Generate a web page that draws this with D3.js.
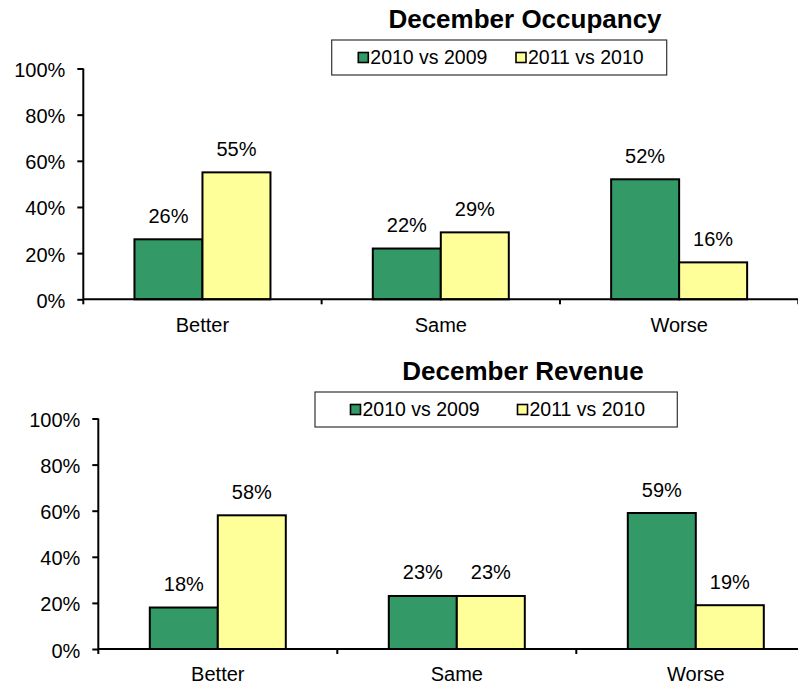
<!DOCTYPE html>
<html>
<head>
<meta charset="utf-8">
<script src="https://cdn.jsdelivr.net/npm/d3@7"></script>
<style>
  html, body { margin: 0; padding: 0; background: #fff; }
  svg { display: block; font-family: "Liberation Sans", Arial, sans-serif; }
</style>
</head>
<body>
<svg id="chart" width="798" height="684"></svg>
<script>
// ---- Data ----
const categories = ["Better", "Same", "Worse"];
const seriesNames = ["2010 vs 2009", "2011 vs 2010"];
const occupancy2010vs2009 = [26, 22, 52];
const occupancy2011vs2010 = [55, 29, 16];
const revenue2010vs2009 = [18, 23, 59];
const revenue2011vs2010 = [58, 23, 19];
const yTickValues = [0, 20, 40, 60, 80, 100];
const titles = ["December Occupancy", "December Revenue"];
const colors = ["#339966", "#FFFF99"];

const svg = d3.select("#chart");

function drawChart(cfg) {
  const g = svg.append("g");
  const y = d3.scaleLinear().domain([0, 100]).range([cfg.y0, cfg.y1]);
  const x = d3.scaleBand().domain(categories).range([cfg.x0, cfg.x1]).padding(0);
  const barW = 68;
  const xs = d3.scaleBand().domain(seriesNames).range([0, 2 * barW]).padding(0);

  // title
  g.append("text")
    .attr("x", cfg.titleX).attr("y", cfg.titleY)
    .attr("text-anchor", "middle")
    .attr("font-weight", "bold").attr("font-size", 26)
    .attr("fill", "#000")
    .text(cfg.title);

  // legend
  const lg = g.append("g");
  lg.append("rect")
    .attr("x", cfg.legend.x).attr("y", cfg.legend.y)
    .attr("width", cfg.legend.w).attr("height", cfg.legend.h)
    .attr("fill", "#fff").attr("stroke", "#333").attr("stroke-width", 1.2);
  seriesNames.forEach((s, i) => {
    const sx = cfg.legend.items[i];
    lg.append("rect")
      .attr("x", sx).attr("y", cfg.legend.y + 12.5)
      .attr("width", 10).attr("height", 10)
      .attr("fill", colors[i]).attr("stroke", "#000").attr("stroke-width", 1.6);
    lg.append("text")
      .attr("x", sx + 12).attr("y", cfg.legend.y + 23.5)
      .attr("font-size", 19.5).attr("fill", "#000")
      .text(s);
  });

  // bars
  const data = [];
  categories.forEach((c, ci) => {
    seriesNames.forEach((s, si) => {
      data.push({ c, s, si, v: cfg.values[si][ci] });
    });
  });
  const barX = d => x(d.c) + x.bandwidth() / 2 - barW + xs(d.s);
  g.selectAll(".bar").data(data).enter().append("rect")
    .attr("class", "bar")
    .attr("x", barX)
    .attr("y", d => y(d.v))
    .attr("width", xs.bandwidth())
    .attr("height", d => y(0) - y(d.v))
    .attr("fill", d => colors[d.si])
    .attr("stroke", "#000").attr("stroke-width", 2);

  g.selectAll(".lbl").data(data).enter().append("text")
    .attr("x", d => barX(d) + xs.bandwidth() / 2)
    .attr("y", d => y(d.v) - 16.5)
    .attr("text-anchor", "middle")
    .attr("font-size", 20).attr("fill", "#000")
    .text(d => d.v + "%");

  // y axis
  const yAxis = d3.axisLeft(y).tickValues(yTickValues)
    .tickSize(6).tickPadding(12)
    .tickFormat(d => d + "%");
  const ya = g.append("g").attr("transform", `translate(${cfg.x0},0)`).call(yAxis);
  ya.select(".domain").attr("stroke", "#000").attr("stroke-width", 2)
    .attr("d", `M0,${cfg.y1}V${cfg.y0}`);
  ya.selectAll(".tick line").attr("stroke", "#000").attr("stroke-width", 2);
  ya.selectAll(".tick text").attr("font-size", 20).attr("fill", "#000")
    .attr("font-family", "Liberation Sans, Arial, sans-serif").attr("dy", "0.4em");

  // x axis
  const xa = g.append("g").attr("transform", `translate(0,${cfg.y0})`);
  xa.append("line").attr("x1", cfg.x0).attr("x2", cfg.x1)
    .attr("y1", 0).attr("y2", 0).attr("stroke", "#000").attr("stroke-width", 2);
  const bounds = categories.map(c => x(c)).concat([x(categories[categories.length - 1]) + x.bandwidth()]);
  xa.selectAll(".xt").data(bounds).enter().append("line")
    .attr("x1", d => d).attr("x2", d => d)
    .attr("y1", 0).attr("y2", 5).attr("stroke", "#000").attr("stroke-width", 2);
  xa.selectAll(".xl").data(categories).enter().append("text")
    .attr("x", d => x(d) + x.bandwidth() / 2)
    .attr("y", 32.4)
    .attr("text-anchor", "middle")
    .attr("font-size", 20).attr("fill", "#000")
    .text(d => d);
}

drawChart({
  title: titles[0], titleX: 525, titleY: 28,
  x0: 83.3, x1: 798.3, y0: 299.3, y1: 68.5,
  values: [occupancy2010vs2009, occupancy2011vs2010],
  legend: { x: 331.7, y: 40, w: 335, h: 35, items: [358.3, 516] }
});
drawChart({
  title: titles[1], titleX: 523, titleY: 380,
  x0: 98.3, x1: 815.3, y0: 649, y1: 418.5,
  values: [revenue2010vs2009, revenue2011vs2010],
  legend: { x: 315, y: 392, w: 362.3, h: 35, items: [350.5, 517.5] }
});
</script>
</body>
</html>
